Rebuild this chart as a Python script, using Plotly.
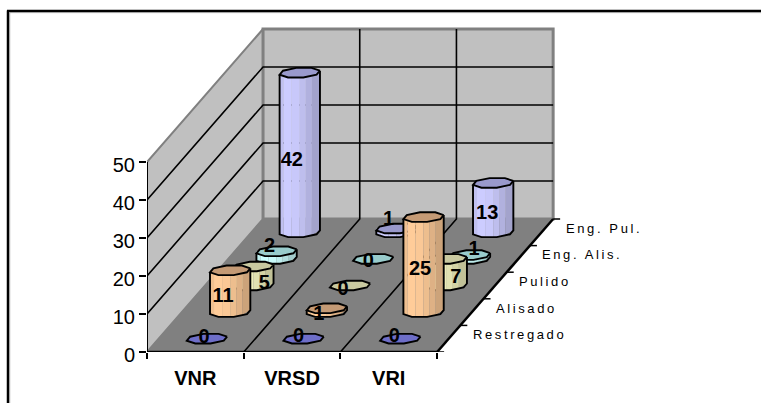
import numpy as np
import plotly.graph_objects as go

categories = ["VNR", "VRSD", "VRI"]
series_names = ["Restregado", "Alisado", "Pulido", "Eng. Alis.", "Eng. Pul."]
restregado = [0, 0, 0]
alisado = [11, 1, 25]
pulido = [5, 0, 7]
eng_alis = [2, 0, 1]
eng_pul = [42, 1, 13]
series_values = [restregado, alisado, pulido, eng_alis, eng_pul]
y_ticks = [0, 10, 20, 30, 40, 50]

# styles
body_colors = ["#7C7CDC", "#FFCC99", "#F2F2BE", "#CCFFFF", "#CCCCFF"]
top_colors = ["#6E6EC8", "#C49A75", "#C9C9A0", "#99CCCC", "#9999CC"]
label_nudges = [
    [(-3, -1), (-5, -2), (-6, -2)],
    [(-7, 6), (-8, 5), (-3.5, 5.5)],
    [(11, 8), (-7, 4.5), (9, 6)],
    [(-7, -8), (-5, 3), (4, -7)],
    [(-8, 8), (-8, -10), (-6, 6)],
]

W, H = 761, 403
L, B, T, R = 147, 352, 20, 620
PX_C = 96.7          # px per category
PX_V = 3.8           # px per value unit
DX = 0.24            # x shift per series row (category units)
DY = 7.0             # y shift per series row (value units)
n_c, n_s, v_max = len(categories), len(series_names), y_ticks[-1]


def proj(c, s, v=0.0):
    return c + s * DX, v + s * DY


def px2dx(p):
    return p / PX_C


def px2dy(p):
    return p / PX_V


fig = go.Figure()


def poly(points, fill=None, line=None, width=1.5):
    xs = [p[0] for p in points]
    ys = [p[1] for p in points]
    fig.add_trace(go.Scatter(
        x=xs, y=ys, mode="lines", hoverinfo="skip", showlegend=False,
        fill="toself" if fill else "none", fillcolor=fill,
        line=dict(color=line or "rgba(0,0,0,0)", width=width if line else 0),
    ))


GREY_LINE = "#808080"
WALL = "#C0C0C0"
# side wall, back wall, floor
poly([proj(0, 0, 0), proj(0, 0, v_max), proj(0, n_s, v_max), proj(0, n_s, 0)] + [proj(0, 0, 0)], WALL, GREY_LINE, 2)
poly([proj(0, n_s, 0), proj(0, n_s, v_max), proj(n_c, n_s, v_max), proj(n_c, n_s, 0), proj(0, n_s, 0)], WALL, GREY_LINE, 3)
poly([proj(0, 0, 0), proj(0, n_s, 0), proj(n_c, n_s, 0), proj(n_c, 0, 0), proj(0, 0, 0)], GREY_LINE, GREY_LINE, 1)

# gridlines
for v in y_ticks[1:-1]:
    poly([proj(0, 0, v), proj(0, n_s, v), proj(n_c, n_s, v)], None, "#000000", 1.6)
for c in range(1, n_c):
    poly([proj(c, 0, 0), proj(c, n_s, 0), proj(c, n_s, v_max)], None, "#000000", 1.6)

# axes lines
poly([proj(0, 0, 0), proj(0, 0, v_max)], None, "#000000", 2)
poly([proj(0, 0, 0), proj(n_c, 0, 0)], None, "#000000", 2.5)
poly([proj(n_c, 0, 0), proj(n_c, n_s, 0)], None, "#000000", 2.5)
for s in range(n_s + 1):
    x0, y0 = proj(n_c, s, 0)
    poly([(x0, y0), (x0 + px2dx(7), y0)], None, "#000000", 1.5)

# octagonal column cross section, px offsets
RX, RY, SHEAR = 20.0, 5.2, 4.4
theta = np.deg2rad(22.5 + 45 * np.arange(8))
oct_x = RX * np.cos(theta) + SHEAR * np.sin(theta)
oct_y = RY * np.sin(theta)
lower_idx = [4, 5, 6, 7, 0]
lower_x = oct_x[lower_idx]
lower_y = oct_y[lower_idx]

strip_edges = np.array([0, .1, .3, .5, .65, .8, 1.0])
strip_factor = [.94, 1.0, .98, .93, .87, .8]


def shade(color, f):
    rgb = [int(color[i:i + 2], 16) for i in (1, 3, 5)]
    return "rgb({},{},{})".format(*[int(round(ch * f)) for ch in rgb])


labels_x, labels_y, labels_t = [], [], []
for s in range(n_s - 1, -1, -1):
    for c in range(n_c):
        v = series_values[s][c]
        cx, cy = proj(c + .5, s + .5, 0)
        top = v
        if v > 0:
            xl, xr = lower_x[0], lower_x[-1]
            # shaded strips of the column side
            for i in range(len(strip_factor)):
                a = xl + (xr - xl) * strip_edges[i]
                b = xl + (xr - xl) * strip_edges[i + 1]
                ya = np.interp(a, lower_x, lower_y)
                yb = np.interp(b, lower_x, lower_y)
                poly([(cx + px2dx(a), cy + px2dy(ya)), (cx + px2dx(b), cy + px2dy(yb)),
                      (cx + px2dx(b), cy + top), (cx + px2dx(a), cy + top)],
                     shade(body_colors[s], strip_factor[i]))
            outline = [(cx + px2dx(xl), cy + top + px2dy(lower_y[0]))]
            outline += [(cx + px2dx(a), cy + px2dy(b)) for a, b in zip(lower_x, lower_y)]
            outline += [(cx + px2dx(xr), cy + top + px2dy(lower_y[-1]))]
            poly(outline, None, "#000000", 1.9)
        octagon = [(cx + px2dx(a), cy + top + px2dy(b)) for a, b in zip(oct_x, oct_y)]
        poly(octagon + octagon[:1], top_colors[s], "#000000", 1.9)
        nx, ny = label_nudges[s][c]
        labels_x.append(cx + px2dx(nx))
        labels_y.append(cy + v / 2 - px2dy(ny))
        labels_t.append(str(v))

fig.add_trace(go.Scatter(
    x=labels_x, y=labels_y, text=labels_t, mode="text", hoverinfo="skip", showlegend=False,
    textposition="middle center",
    textfont=dict(family="Liberation Sans", size=20, color="#000000", weight="bold"),
))

annotations = []
for s, name in enumerate(series_names):
    x0, y0 = proj(n_c, s + .5, 0)
    annotations.append(dict(
        x=x0, y=y0, xref="x", yref="y", showarrow=False, xanchor="left", yanchor="middle",
        xshift=22, yshift=4,
        text='<span style="letter-spacing:2.6px">%s</span>' % name,
        font=dict(family="Liberation Sans", size=13, color="#000000"),
    ))


def pxx(p):
    return (p - L) / (R - L)


def pxy(p):
    return (B - p) / (B - T)


frame = []
for (x0, y0, x1, y1, col, w) in [
    (8, 10.5, 8, H + 2, "#000000", 2.5), (9.7, 12, 9.7, H + 2, "#A0A0A0", 1),
    (7, 11, W + 2, 11, "#000000", 2.5), (9, 12.6, W + 2, 12.6, "#A0A0A0", 1),
]:
    frame.append(dict(type="line", xref="paper", yref="paper", x0=pxx(x0), x1=pxx(x1),
                      y0=pxy(y0), y1=pxy(y1), line=dict(color=col, width=w), layer="above"))

fig.update_layout(
    width=W, height=H, autosize=False, paper_bgcolor="#FFFFFF", plot_bgcolor="#FFFFFF",
    margin=dict(l=L, r=W - R, t=T, b=H - B, pad=0),
    font=dict(family="Liberation Sans", color="#000000"),
    showlegend=False, annotations=annotations, shapes=frame,
    xaxis=dict(
        range=[0, (R - L) / PX_C], showgrid=False, zeroline=False, showline=False, automargin=False,
        tickmode="array", tickvals=[i + .5 for i in range(n_c)], ticktext=categories,
        ticks="outside", ticklen=8, tickcolor="rgba(0,0,0,0)",
        tickfont=dict(family="Liberation Sans", size=20, color="#000000", weight="bold"),
        minor=dict(tickmode="array", tickvals=list(range(n_c + 1)), ticks="outside", ticklen=6,
                   tickcolor="#000000", tickwidth=1.5, showgrid=False),
    ),
    yaxis=dict(
        range=[0, (B - T) / PX_V], showgrid=False, zeroline=False, showline=False, automargin=False,
        tickmode="array", tickvals=y_ticks, ticks="outside", ticklen=7, tickcolor="#000000", tickwidth=1.5,
        ticklabelshift=3,
        tickfont=dict(family="Liberation Sans", size=20, color="#000000"),
    ),
)

fig.write_html("out.html", config={"displayModeBar": False},
               post_script="document.documentElement.style.margin='0';document.body.style.margin='0';document.body.style.overflow='hidden';")
